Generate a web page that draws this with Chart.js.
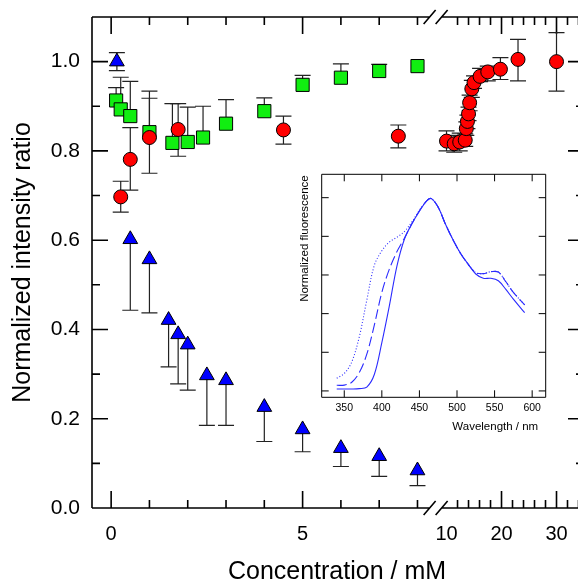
<!DOCTYPE html>
<html>
<head>
<meta charset="utf-8">
<script src="https://cdn.jsdelivr.net/npm/chart.js@4.4.1/dist/chart.umd.min.js"></script>
<style>
html, body { margin: 0; padding: 0; background: #fff; overflow: hidden; }
#wrap { position: relative; width: 578px; height: 581px; overflow: hidden; }
#main { position: absolute; left: 0; top: 0; }
#inset { position: absolute; left: 290px; top: 165px; }
</style>
</head>
<body>
<div id="wrap">
  <canvas id="main" width="590" height="581"></canvas>
  <canvas id="inset" width="265" height="270"></canvas>
</div>
<script>
// Normalized intensity ratio vs concentration, broken x axis, with fluorescence inset
const FONT = '"Liberation Sans", Arial, sans-serif';

// blue triangles (lower error bars)
const blueConc = [0.15, 0.5, 1, 1.5, 1.75, 2, 2.5, 3, 4, 5, 6, 7, 8];
const blueVal  = [1.0, 0.602, 0.557, 0.421, 0.389, 0.366, 0.297, 0.286, 0.226, 0.176, 0.134, 0.116, 0.084];
const blueLow  = [0.98, 0.443, 0.437, 0.316, 0.278, 0.264, 0.185, 0.185, 0.149, 0.126, 0.093, 0.071, 0.05];
const blueHigh = [1.02, null, null, null, null, null, null, null, null, null, null, null, null];

// green squares (upper error bars)
const greenConc = [0.13, 0.25, 0.5, 1, 1.6, 2, 2.4, 3, 4, 5, 6, 7, 8];
const greenVal  = [0.913, 0.893, 0.878, 0.842, 0.818, 0.820, 0.830, 0.861, 0.889, 0.948, 0.964, 0.979, 0.990];
const greenHigh = [0.942, 0.965, 0.956, 0.918, 0.906, 0.898, 0.900, 0.915, 0.919, 0.969, 0.995, 0.994, null];

// red circles (both error bars)
const redConc = [0.25, 0.5, 1, 1.75, 4.5, 7.5, 10, 11.4, 12.4, 13.4, 13.6, 13.8, 14, 14.2, 14.6, 15, 16.1, 17.5, 19.8, 23, 30];
const redVal  = [0.697, 0.781, 0.830, 0.848, 0.847, 0.833, 0.822, 0.816, 0.820, 0.824, 0.850, 0.866, 0.883, 0.908, 0.939, 0.953, 0.967, 0.977, 0.983, 1.005, 1.000];
const redLow  = [0.663, 0.712, 0.750, 0.788, 0.815, 0.807, 0.800, 0.797, 0.800, 0.810, 0.835, 0.850, 0.868, 0.890, 0.920, 0.940, 0.955, 0.957, 0.960, 0.957, 0.934];
const redHigh = [0.732, 0.852, 0.934, 0.906, 0.878, 0.858, 0.845, 0.835, 0.840, 0.838, 0.865, 0.880, 0.898, 0.925, 0.958, 0.968, 0.985, 0.990, 1.009, 1.050, 1.065];

// axis ticks
const yMajor = [0, 0.2, 0.4, 0.6, 0.8, 1.0];
const yMinor = [0.1, 0.3, 0.5, 0.7, 0.9];
const x1Major = [0, 5];
const x1Minor = [1, 2, 3, 4, 6, 7, 8];
const x2Labels = [10, 20, 30];
const x2Major = [20, 30];
const x2Minor = [12, 14, 16, 18, 22, 24, 26, 28, 32, 34];

// inset spectra
const wavelength = [340, 350, 360, 370, 380, 390, 400, 410, 420, 430, 440, 450, 460, 466, 475, 485, 495, 505, 515, 525, 535, 545, 555, 565, 575, 590];
const specSolid  = [0.01, 0.01, 0.01, 0.012, 0.02, 0.085, 0.25, 0.44, 0.645, 0.785, 0.865, 0.93, 0.985, 0.995, 0.95, 0.86, 0.78, 0.71, 0.655, 0.605, 0.583, 0.583, 0.57, 0.525, 0.475, 0.405];
const specDash   = [0.029, 0.03, 0.045, 0.095, 0.19, 0.34, 0.51, 0.63, 0.72, 0.79, 0.865, 0.932, 0.985, 0.995, 0.95, 0.86, 0.78, 0.71, 0.655, 0.612, 0.607, 0.617, 0.615, 0.565, 0.51, 0.445];
const specDot    = [0.066, 0.09, 0.15, 0.28, 0.47, 0.65, 0.725, 0.77, 0.795, 0.825, 0.875, 0.935, 0.985, 0.995, 0.95, 0.86, 0.78, 0.71, 0.655, 0.612, 0.607, 0.617, 0.615, 0.565, 0.51, 0.445];
const insetXTicks = [350, 400, 450, 500, 550, 600];
const insetYTicks = [0, 0.2, 0.4, 0.6, 0.8, 1.0];

function points(xs, ys, lo, hi, keep) {
  const out = [];
  xs.forEach(function (x, i) {
    if (keep && !keep(x)) return;
    out.push({ x: x, y: ys[i], lo: lo ? lo[i] : null, hi: hi ? hi[i] : null });
  });
  return out;
}

// no automatic label padding: the plot area is placed by hand
function noPad(s) {
  s.paddingLeft = 0;
  s.paddingRight = 0;
  s.paddingTop = 0;
  s.paddingBottom = 0;
}

const errorBarPlugin = {
  id: 'errorBars',
  beforeDatasetsDraw: function (chart) {
    const ctx = chart.ctx;
    const yScale = chart.scales.y;
    ctx.save();
    ctx.strokeStyle = '#222';
    ctx.lineWidth = 1.2;
    chart.data.datasets.forEach(function (ds, i) {
      const meta = chart.getDatasetMeta(i);
      ds.data.forEach(function (p, j) {
        const el = meta.data[j];
        if (!el) return;
        [p.lo, p.hi].forEach(function (v) {
          if (v === null || v === undefined) return;
          const yy = yScale.getPixelForValue(v);
          ctx.beginPath();
          ctx.moveTo(el.x, el.y);
          ctx.lineTo(el.x, yy);
          ctx.moveTo(el.x - 8, yy);
          ctx.lineTo(el.x + 8, yy);
          ctx.stroke();
        });
      });
    });
    ctx.restore();
  }
};

const framePlugin = {
  id: 'frame',
  beforeDatasetsDraw: function (chart) {
    const ctx = chart.ctx;
    const a = chart.chartArea;
    const y = chart.scales.y, x1 = chart.scales.x1, x2 = chart.scales.x2;
    const bx = x1.right;
    ctx.save();
    ctx.strokeStyle = '#000';
    ctx.lineWidth = 1.6;
    ctx.beginPath();
    ctx.moveTo(a.left, a.top);
    ctx.lineTo(a.left, a.bottom);
    [a.top, a.bottom].forEach(function (yy) {
      ctx.moveTo(a.left, yy);
      ctx.lineTo(bx - 7, yy);
      ctx.moveTo(bx + 5, yy);
      ctx.lineTo(a.right, yy);
      // break marks
      ctx.moveTo(bx - 13, yy + 7);
      ctx.lineTo(bx - 1, yy - 7);
      ctx.moveTo(bx - 1, yy + 7);
      ctx.lineTo(bx + 11, yy - 7);
    });
    function xTicks(scale, vals, len) {
      vals.forEach(function (v) {
        const px = scale.getPixelForValue(v);
        ctx.moveTo(px, a.top);
        ctx.lineTo(px, a.top + len);
        ctx.moveTo(px, a.bottom);
        ctx.lineTo(px, a.bottom - len);
      });
    }
    function yTicks(vals, len) {
      vals.forEach(function (v) {
        const py = y.getPixelForValue(v);
        ctx.moveTo(a.left, py);
        ctx.lineTo(a.left + len, py);
        ctx.moveTo(a.right, py);
        ctx.lineTo(a.right - len, py);
      });
    }
    xTicks(x1, x1Major, 17);
    xTicks(x1, x1Minor, 8);
    xTicks(x2, x2Major, 17);
    xTicks(x2, x2Minor, 8);
    yTicks(yMajor, 16);
    yTicks(yMinor, 8);
    ctx.stroke();

    // x axis title, centred on the whole (broken) axis
    ctx.fillStyle = '#000';
    ctx.font = '25px ' + FONT;
    ctx.textAlign = 'center';
    ctx.textBaseline = 'alphabetic';
    ctx.fillText('Concentration / mM', 337, 579);
    ctx.restore();
  }
};

const tickFont = { family: FONT, size: 20 };

new Chart(document.getElementById('main'), {
  type: 'scatter',
  data: {
    datasets: [
      {
        label: 'blue',
        data: points(blueConc, blueVal, blueLow, blueHigh),
        xAxisID: 'x1',
        pointStyle: 'triangle',
        pointRadius: 8.5,
        backgroundColor: '#0000ff',
        borderColor: '#000',
        borderWidth: 1,
        order: 0
      },
      {
        label: 'red',
        data: points(redConc, redVal, redLow, redHigh, function (x) { return x < 9; }),
        xAxisID: 'x1',
        pointStyle: 'circle',
        pointRadius: 7,
        backgroundColor: '#ff0000',
        borderColor: '#000',
        borderWidth: 1,
        order: 1
      },
      {
        label: 'red (high)',
        data: points(redConc, redVal, redLow, redHigh, function (x) { return x >= 9; }),
        xAxisID: 'x2',
        pointStyle: 'circle',
        pointRadius: 7,
        backgroundColor: '#ff0000',
        borderColor: '#000',
        borderWidth: 1,
        order: 1
      },
      {
        label: 'green',
        data: points(greenConc, greenVal, null, greenHigh),
        xAxisID: 'x1',
        pointStyle: 'rect',
        pointRadius: 9.3,
        backgroundColor: '#11ee11',
        borderColor: '#000',
        borderWidth: 1,
        order: 2
      }
    ]
  },
  options: {
    responsive: false,
    animation: false,
    layout: { autoPadding: false, padding: { left: 0, right: 6, top: 17, bottom: 0 } },
    plugins: { legend: { display: false }, tooltip: { enabled: false } },
    scales: {
      x1: {
        type: 'linear',
        position: 'bottom',
        stack: 'conc',
        stackWeight: 344.7,
        min: -0.5,
        max: 8.5,
        afterBuildTicks: function (s) { s.ticks = x1Major.map(function (v) { return { value: v }; }); },
        afterFit: function (s) { s.height = 73; noPad(s); },
        grid: { display: false, drawTicks: false },
        border: { display: false },
        ticks: { padding: 14, color: '#000', font: tickFont, autoSkip: false, maxRotation: 0 }
      },
      x2: {
        type: 'linear',
        position: 'bottom',
        stack: 'conc',
        stackWeight: 147.4,
        min: 8.2,
        max: 35,
        afterBuildTicks: function (s) { s.ticks = x2Labels.map(function (v) { return { value: v }; }); },
        afterFit: function (s) { s.height = 73; noPad(s); },
        grid: { display: false, drawTicks: false },
        border: { display: false },
        ticks: { padding: 14, color: '#000', font: tickFont, autoSkip: false, maxRotation: 0 }
      },
      y: {
        type: 'linear',
        position: 'left',
        min: 0,
        max: 1.1,
        afterBuildTicks: function (s) { s.ticks = yMajor.map(function (v) { return { value: v }; }); },
        afterFit: function (s) { s.width = 92; noPad(s); },
        grid: { display: false, drawTicks: false },
        border: { display: false },
        ticks: {
          padding: 12,
          color: '#000',
          font: { family: FONT, size: 21 },
          callback: function (v) { return Number(v).toFixed(1); }
        },
        title: {
          display: true,
          text: 'Normalized intensity ratio',
          color: '#000',
          font: { family: FONT, size: 25 },
          padding: { top: 8, bottom: 0 }
        }
      }
    }
  },
  plugins: [framePlugin, errorBarPlugin]
});

// ---- inset ----
const insetFramePlugin = {
  id: 'insetFrame',
  afterDraw: function (chart) {
    const ctx = chart.ctx;
    const a = chart.chartArea;
    const xs = chart.scales.x, ys = chart.scales.y;
    ctx.save();
    ctx.strokeStyle = '#000';
    ctx.lineWidth = 1;
    ctx.beginPath();
    ctx.rect(a.left, a.top, a.right - a.left, a.bottom - a.top);
    insetXTicks.forEach(function (v) {
      const px = xs.getPixelForValue(v);
      ctx.moveTo(px, a.top);
      ctx.lineTo(px, a.top + 7);
      ctx.moveTo(px, a.bottom);
      ctx.lineTo(px, a.bottom - 7);
    });
    insetYTicks.forEach(function (v) {
      const py = ys.getPixelForValue(v);
      ctx.moveTo(a.left, py);
      ctx.lineTo(a.left + 7, py);
      ctx.moveTo(a.right, py);
      ctx.lineTo(a.right - 7, py);
    });
    ctx.stroke();

    ctx.fillStyle = '#000';
    ctx.font = '11.5px ' + FONT;
    ctx.textAlign = 'right';
    ctx.textBaseline = 'alphabetic';
    ctx.fillText('Wavelength / nm', a.right - 7.5, 264.8);
    ctx.translate(14.7, a.top + 1);
    ctx.rotate(-Math.PI / 2);
    ctx.textBaseline = 'middle';
    ctx.fillText('Normalized fluorescence', 0, 0);
    ctx.restore();
  }
};

const specColor = '#2b2bff';
function specSet(vals, dash) {
  return {
    data: wavelength.map(function (w, i) { return { x: w, y: vals[i] }; }),
    borderColor: specColor,
    borderWidth: 1.1,
    borderDash: dash,
    pointRadius: 0,
    tension: 0.35,
    fill: false
  };
}

new Chart(document.getElementById('inset'), {
  type: 'line',
  data: {
    datasets: [
      specSet(specSolid, []),
      specSet(specDash, [10, 4]),
      specSet(specDot, [1, 2])
    ]
  },
  options: {
    responsive: false,
    animation: false,
    layout: { autoPadding: false, padding: { left: 0, right: 9.3, top: 9.3, bottom: 0 } },
    plugins: { legend: { display: false }, tooltip: { enabled: false } },
    scales: {
      x: {
        type: 'linear',
        min: 320,
        max: 618,
        afterBuildTicks: function (s) { s.ticks = insetXTicks.map(function (v) { return { value: v }; }); },
        afterFit: function (s) { s.height = 37.7; noPad(s); },
        grid: { display: false, drawTicks: false },
        border: { display: false },
        ticks: { padding: 5, color: '#000', font: { family: FONT, size: 10.5 }, autoSkip: false, maxRotation: 0 }
      },
      y: {
        type: 'linear',
        min: -0.033,
        max: 1.121,
        afterFit: function (s) { s.width = 31.7; noPad(s); },
        grid: { display: false, drawTicks: false },
        border: { display: false },
        ticks: { display: false }
      }
    }
  },
  plugins: [insetFramePlugin]
});
</script>
</body>
</html>
